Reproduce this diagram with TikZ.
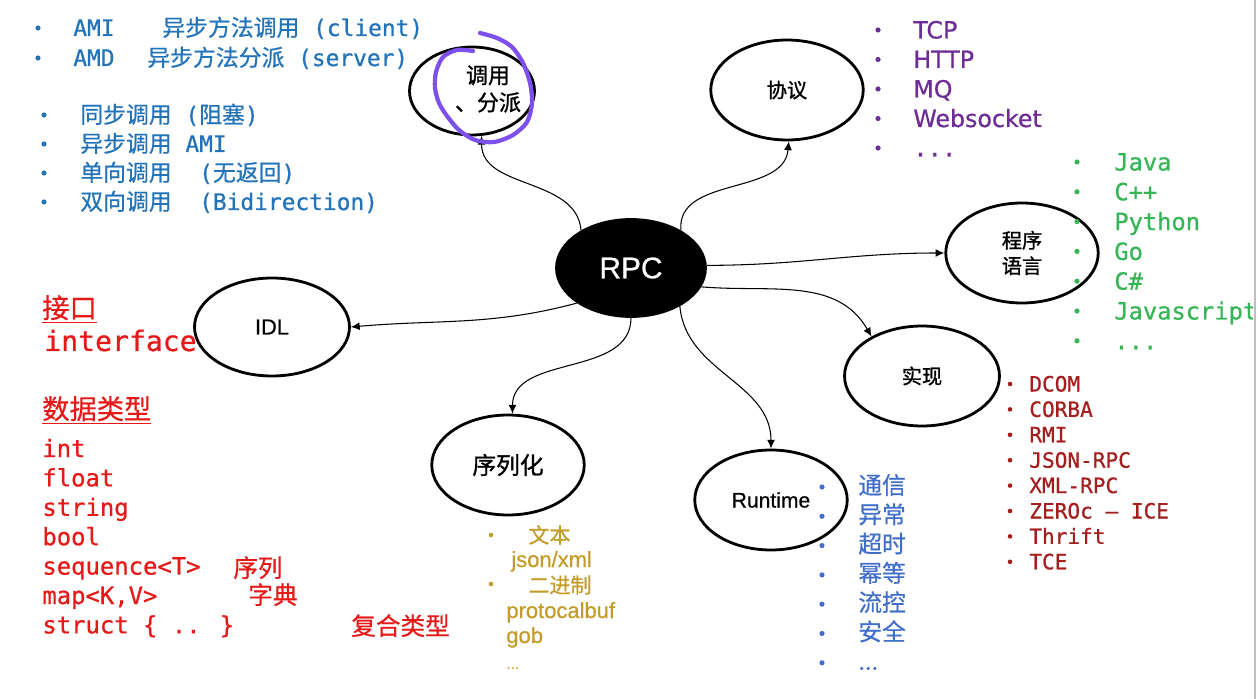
\documentclass[tikz,border=0pt]{standalone}
\usepackage{fontspec}
\usepackage{xcolor}
\usepackage{tikz}
\usetikzlibrary{positioning, shapes.geometric, arrows.meta}

\setmainfont{Liberation Sans}
\newfontfamily\cjk[FakeBold=0.6]{Noto Sans CJK SC}
\newfontfamily\cjkbold[FakeBold=1.2]{Noto Sans CJK SC}
\newfontfamily\monofam[FakeBold=0.7]{DejaVu Sans Mono}
\newfontfamily\dejavu[FakeBold=0.7]{DejaVu Sans}
\newfontfamily\sansmid[FakeBold=0.6]{Liberation Sans}

\newcommand{\setsize}[1]{\fontsize{#1}{#1}\selectfont}
\newcommand{\etcdots}{...}
\newcommand{\monodots}{{\monofam ...}}

\definecolor{callblue}{RGB}{35,115,185}
\definecolor{protopurple}{RGB}{110,45,150}
\definecolor{langgreen}{RGB}{55,180,85}
\definecolor{impldark}{RGB}{165,30,30}
\definecolor{idlred}{RGB}{230,25,25}
\definecolor{seryellow}{RGB}{195,155,40}
\definecolor{rtblue}{RGB}{65,110,200}
\definecolor{scribblepurple}{RGB}{125,80,235}

\tikzset{
  topic/.style={ellipse, draw, line width=1.6pt, inner sep=0pt,
    minimum width=3.05cm, minimum height=2cm, align=center, font=\sansmid\setsize{12pt}},
  conn/.style={-{Latex[length=5pt,width=4.5pt]}, line width=0.6pt},
  item/.style={anchor=base west, inner sep=0pt},
  scribble/.style={draw=scribblepurple, line width=2.4pt, line cap=round, line join=round},
}

\begin{document}
\begin{tikzpicture}[x=0.02cm, y=0.02cm]
        \useasboundingbox (0,0) rectangle (1258,-699);

        % the topics
        \node[topic, fill=black, text=white, minimum width=2.98cm, minimum height=1.94cm,
              font=\sansmid\setsize{17pt}] (rpc) at (631,-268) {RPC};
        \node[topic, minimum width=2.5cm, minimum height=1.76cm] (call) at (472,-91) {};
        \node[align=center, font=\cjkbold\fontsize{12.5pt}{15.5pt}\selectfont] (calltxt) at (488,-89) {调用\\、分派};
        \node[topic, font=\cjkbold\setsize{11.5pt}] (proto) at (787,-90) {协议};
        \node[topic, font=\cjkbold\fontsize{11.5pt}{14.5pt}\selectfont] (lang) at (1022,-253) {程序\\语言};
        \node[topic, minimum width=3.1cm, minimum height=1.96cm, font=\sansmid\setsize{12.4pt}] (idl) at (272,-327) {IDL};
        \node[topic, minimum width=3.1cm, font=\cjkbold\setsize{11.5pt}] (impl) at (922,-376) {实现};
        \node[topic, font=\cjkbold\setsize{13.5pt}] (ser) at (508,-465) {序列化};
        \node[topic] (rt) at (771,-500) {Runtime};

        % the connectors
        \draw[conn] (rpc.143) to[out=95,in=-90] (call.-78);
        \draw[conn] (rpc.37) to[out=95,in=-95] (proto.-88);
        \draw[conn] (rpc.2) to[out=0,in=180] (lang.west);
        \draw[conn] (rpc.213) to[out=195,in=5] (idl.east);
        \draw[conn] (rpc.-15) to[out=-5,in=120] (impl.142);
        \draw[conn] (rpc.-90) to[out=-90,in=90] (ser.85);
        \draw[conn] (rpc.-38) to[out=-85,in=90] (rt.north);

        % hand drawn loop round the call topic
        \draw[scribble] plot[smooth] coordinates {(473,-51) (457,-50) (443,-57) (436,-72) (435,-88)
            (439,-103) (447,-116) (459,-130) (475,-140) (494,-142) (513,-135) (527,-122)
            (532,-103) (530,-83) (523,-63) (512,-47) (497,-38) (480,-33)};

        % call modes
        \fill[callblue] (38,-28) circle (2.6);
        \node[item, text=callblue, font=\monofam\setsize{13pt}] (ami) at (73,-36) {AMI};
        \node[item, text=callblue, font=\monofam\setsize{13pt}] (amitxt) at (162,-36) {{\cjk 异步方法调用} (client)};
        \fill[callblue] (38,-58) circle (2.6);
        \node[item, text=callblue, font=\monofam\setsize{13pt}] (amd) at (73,-66) {AMD};
        \node[item, text=callblue, font=\monofam\setsize{13pt}] (amdtxt) at (147,-66) {{\cjk 异步方法分派} (server)};
        \foreach \t [count=\i from 0] in {{{\cjk 同步调用} ({\cjk 阻塞})}, {{\cjk 异步调用} AMI},
            {{\cjk 单向调用}\ \ ({\cjk 无返回})}, {{\cjk 双向调用}\ \ (Bidirection)}} {
          \fill[callblue] (44,{-115-29*\i}) circle (2.6);
          \node[item, text=callblue, font=\monofam\setsize{13pt}] (mode\i) at (80,{-123-29*\i}) {\t};
        }

        % protocols
        \foreach \t [count=\i from 0] in {TCP, HTTP, MQ, Websocket, \monodots} {
          \fill[protopurple] (878,{-30-29.5*\i}) circle (2.6);
          \node[item, text=protopurple, font=\dejavu\setsize{13.5pt}] (proto\i) at (913,{-38.5-29.5*\i}) {\t};
        }

        % languages
        \begin{scope}
          \clip (0,0) rectangle (1253,-699);
          \foreach \t [count=\i from 0] in {Java, C++, Python, Go, C\#, Javascript, \etcdots} {
            \fill[langgreen] (1077,{-162-29.8*\i}) circle (2.6);
            \node[item, text=langgreen, font=\monofam\setsize{13.5pt}] (lang\i) at (1114,{-170.5-29.8*\i}) {\t};
          }
        \end{scope}

        % implementations
        \foreach \t [count=\i from 0] in {DCOM, CORBA, RMI, JSON-RPC, XML-RPC, ZEROc – ICE, Thrift, TCE} {
          \fill[impldark] (1010,{-384-25.4*\i}) circle (2.3);
          \node[item, text=impldark, font=\monofam\setsize{12pt}] (impl\i) at (1029,{-391.5-25.4*\i}) {\t};
        }

        % idl
        \node[item, text=idlred, font=\cjk\setsize{15.5pt}] (iface) at (42,-318) {\underline{接口}};
        \node[item, text=idlred, font=\monofam\setsize{16pt}] (ifaceen) at (44,-351) {interface};
        \node[item, text=idlred, font=\cjk\setsize{15.5pt}] (types) at (42,-419) {\underline{数据类型}};
        \foreach \t [count=\i from 0] in {int, float, string, bool, sequence<T>, {map<K,V>}, struct \{ .. \}} {
          \node[item, text=idlred, font=\monofam\setsize{13.6pt}] (type\i) at (42,{-457-29.4*\i}) {\t};
        }
        \node[item, text=idlred, font=\cjk\setsize{14pt}] (seqcn) at (233,-577) {序列};
        \node[item, text=idlred, font=\cjk\setsize{14pt}] (mapcn) at (248,-604) {字典};
        \node[item, text=idlred, font=\cjk\setsize{14pt}] (structcn) at (351,-635) {复合类型};

        % serialization
        \fill[seryellow] (491,-535) circle (2.3);
        \node[item, text=seryellow, font=\cjk\setsize{12pt}] (textfmt) at (528,-543) {文本};
        \node[item, text=seryellow, font=\sansmid\setsize{12.5pt}] (json) at (511,-567) {json/xml};
        \fill[seryellow] (491,-584) circle (2.3);
        \node[item, text=seryellow, font=\cjk\setsize{12pt}] (binfmt) at (528,-593) {二进制};
        \node[item, text=seryellow, font=\sansmid\setsize{12.5pt}] (pb) at (506,-618) {protocalbuf};
        \node[item, text=seryellow, font=\sansmid\setsize{12.5pt}] (gob) at (506,-643) {gob};
        \node[item, text=seryellow, font=\setsize{9pt}] (serdots) at (506,-669) {...};

        % runtime
        \foreach \t [count=\i from 0] in {通信, 异常, 超时, 幂等, 流控, 安全, \etcdots} {
          \fill[rtblue] (822,{-487-29.3*\i}) circle (2.6);
          \node[item, text=rtblue, font=\cjk\setsize{13.5pt}] (rt\i) at (858,{-494-29.3*\i}) {\t};
        }

        % window border
        \draw[gray!50, line width=1.2pt] (1255,0) -- (1255,-699);
    \end{tikzpicture}
\end{document}
